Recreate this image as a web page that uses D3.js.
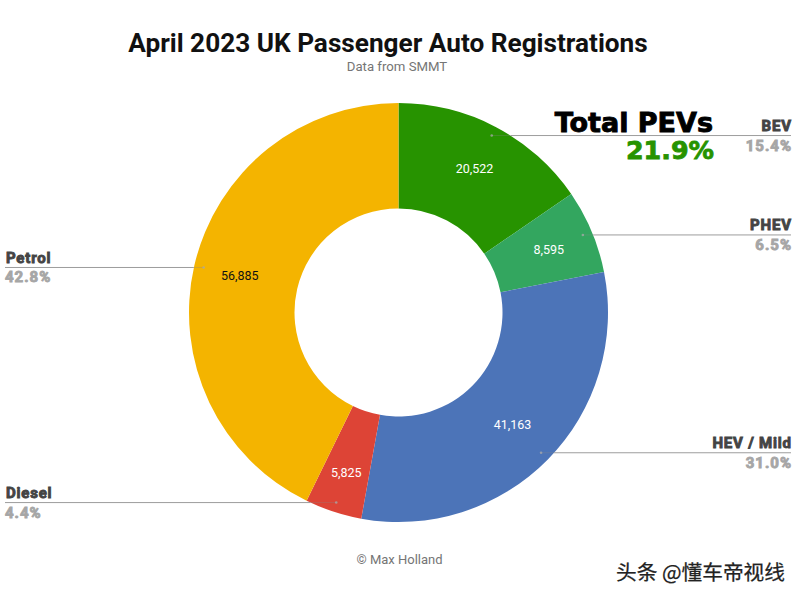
<!DOCTYPE html>
<html><head><meta charset="utf-8">
<script src="https://cdn.jsdelivr.net/npm/d3@7/dist/d3.min.js"></script>
<style>html,body{margin:0;padding:0;background:#fff}svg{display:block}text{font-family:Roboto,sans-serif}</style>
</head><body><svg id="c" width="800" height="599"></svg>
<script>
const categories=["BEV","PHEV","HEV / Mild","Diesel","Petrol"];
const values=[20522,8595,41163,5825,56885];
const shares=["15.4%","6.5%","31.0%","4.4%","42.8%"];
const colors=["#279300","#33a65f","#4c74b8","#dd4436","#f4b400"];
const valueColors=["#fff","#fff","#fff","#fff","#111"];
const sides=["right","right","right","left","left"];
const labelRadii=[163,163,160,168,163];

const cx=398.5,cy=312.5,R=209.5,r0=104,leaderR=200,leftX=5,rightX=791;
const svg=d3.select("#c");
const data=categories.map((c,i)=>({c,i,v:values[i]}));
const pie=d3.pie().value(d=>d.v).sort(null);
const arcs=pie(data);
const arc=d3.arc().innerRadius(r0).outerRadius(R);
const pos=(a,rad)=>{const m=(a.startAngle+a.endAngle)/2;return [cx+rad*Math.sin(m),cy-rad*Math.cos(m)];};

svg.append("g").attr("transform",`translate(${cx},${cy})`)
 .selectAll("path").data(arcs).join("path").attr("d",arc).attr("fill",d=>colors[d.data.i]);

const t=(x,y,s,o)=>{const e=svg.append("text").attr("x",x).attr("y",y).text(s);
 Object.entries(o).forEach(([k,v])=>e.attr(k,v));return e;};

arcs.forEach(a=>{
 const i=a.data.i,[px,py]=pos(a,leaderR),left=sides[i]==="left",ex=left?leftX:rightX;
 const edge=Math.sqrt(R*R-(py-cy)*(py-cy)),bx=left?cx-edge:cx+edge;
 svg.append("line").attr("x1",px).attr("y1",py).attr("x2",bx).attr("y2",py)
   .attr("stroke","#888").attr("stroke-opacity",.3).attr("stroke-width",1);
 svg.append("line").attr("x1",bx).attr("y1",py).attr("x2",ex).attr("y2",py)
   .attr("stroke","#8c8c8c").attr("stroke-opacity",.85).attr("stroke-width",1);
 svg.append("circle").attr("cx",px).attr("cy",py).attr("r",1.3).attr("fill","#aaa").attr("fill-opacity",.75);
 const [lx,ly]=pos(a,labelRadii[i]);
 t(lx,ly+4.5,d3.format(",")(a.data.v),{"text-anchor":"middle","font-size":12.5,fill:valueColors[i]});
 const anchor=left?"start":"end";
 t(left?6:rightX+.8,py-4.6,a.data.c,{"text-anchor":anchor,"font-size":15,"font-weight":700,"letter-spacing":.8,fill:"#444",stroke:"#444","stroke-width":.9});
 t(left?5:rightX+1,py+15,shares[i],{"text-anchor":anchor,"font-size":15,"font-weight":700,"letter-spacing":1,fill:"#a6a6a6",stroke:"#a6a6a6","stroke-width":.9});
});

t(388,52,"April 2023 UK Passenger Auto Registrations",{"text-anchor":"middle","font-size":26.2,"font-weight":700,fill:"#111"});
t(397,71,"Data from SMMT",{"text-anchor":"middle","font-size":13.2,fill:"#757575"});
t(399.5,564,"© Max Holland",{"text-anchor":"middle","font-size":13,fill:"#757575"});
t(713,132,"Total PEVs",{"text-anchor":"end","font-size":27,"font-weight":700,fill:"#000",stroke:"#000","stroke-width":.9}).style("font-family","'DejaVu Sans'");
t(714,159,"21.9%",{"text-anchor":"end","font-size":25.4,"font-weight":700,fill:"#279300",stroke:"#279300","stroke-width":.8}).style("font-family","'DejaVu Sans'");
t(785,580,"头条 @懂车帝视线",{"text-anchor":"end","font-size":20.7,fill:"#222",stroke:"#222","stroke-width":.25}).style("font-family","'Noto Sans CJK SC'");
</script></body></html>
